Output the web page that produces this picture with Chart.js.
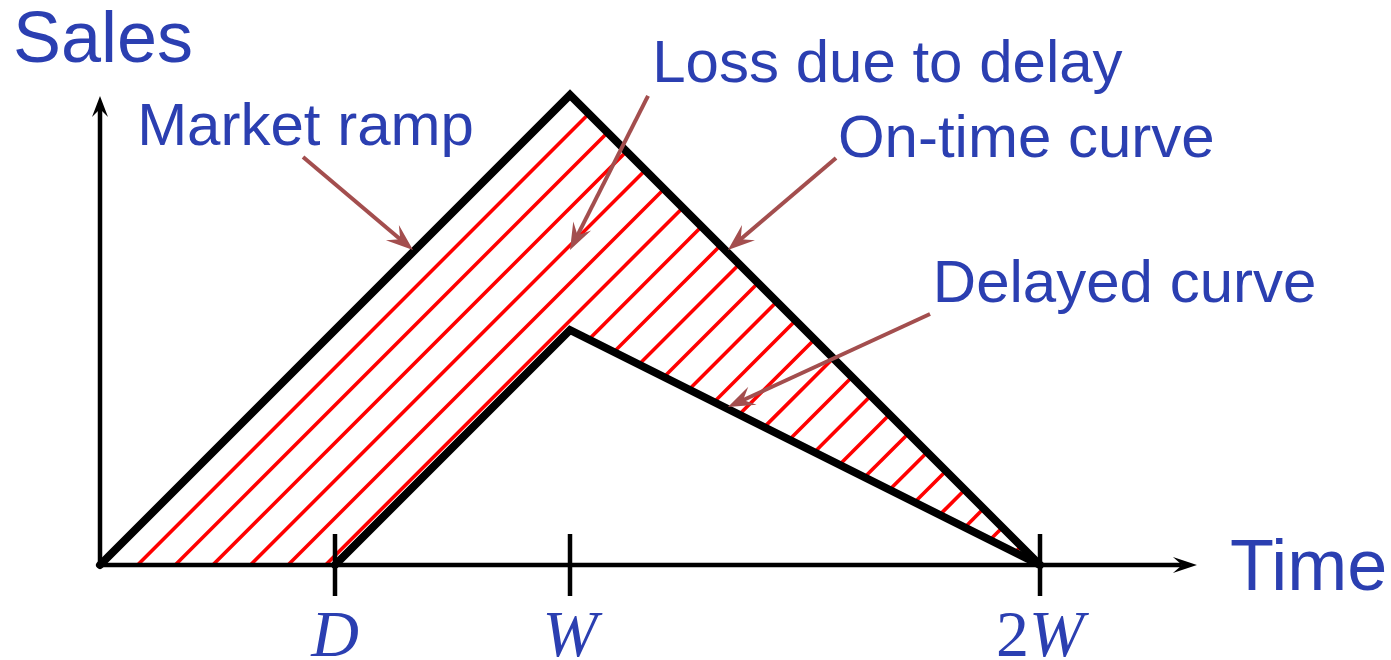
<!DOCTYPE html>
<html>
<head>
<meta charset="utf-8">
<script src="https://cdn.jsdelivr.net/npm/chart.js@4.4.1/dist/chart.umd.min.js"></script>
<style>
  html, body { margin: 0; padding: 0; background: #fff; }
  canvas { display: block; }
</style>
</head>
<body>
<canvas id="chart" width="1391" height="660"></canvas>
<script>
// time in units of W, sales relative to the on-time peak
const onTimeX = [0, 1, 2];
const onTimeY = [0, 1, 0];
const delayedX = [0.5, 1, 2];
const delayedY = [0, 0.5, 0];
const tickValues = [0.5, 1, 2];
const tickLabels = ['D', 'W', '2W'];
// where each red hatch line leaves the lower boundary (hatching runs at slope 1)
const hatchOffsets = [0.08, 0.16, 0.24, 0.32, 0.40, 0.48, 0.56, 0.64, 0.72, 0.80, 0.88, 0.96,
  1.04, 1.12, 1.20, 1.28, 1.36, 1.44, 1.52, 1.60, 1.68, 1.76, 1.84, 1.92];
const noteLabels = ['Market ramp', 'Loss due to delay', 'On-time curve', 'Delayed curve'];

const BLUE = '#2b3fb1';
const BROWN = '#a34e4e';

// text + arrow placement for the notes, in data units
const notes = [
  { text: [0.079, 0.894], tail: [0.432, 0.868], tip: [0.666, 0.670] },
  { text: [1.175, 1.028], tail: [1.166, 0.998], tip: [1.0, 0.670] },
  { text: [1.570, 0.868], tail: [1.566, 0.866], tip: [1.336, 0.670] },
  { text: [1.772, 0.560], tail: [1.766, 0.534], tip: [1.336, 0.336] },
];

function pts(xs, ys) {
  return xs.map((x, i) => ({ x: x, y: ys[i] }));
}

// point where the line x - y = c meets a polyline
function cross(c, xs, ys) {
  for (let i = 0; i < xs.length - 1; i++) {
    const dx = xs[i + 1] - xs[i], dy = ys[i + 1] - ys[i];
    const den = dx - dy;
    if (Math.abs(den) < 1e-9) continue;
    const t = (c - xs[i] + ys[i]) / den;
    if (t >= 0 && t <= 1) return { x: xs[i] + t * dx, y: ys[i] + t * dy };
  }
  return null;
}

const lowerX = [0].concat(delayedX);
const lowerY = [0].concat(delayedY);

const datasets = [];
datasets.push({ data: pts(onTimeX, onTimeY), borderColor: '#000', borderWidth: 8, borderJoinStyle: 'miter', borderCapStyle: 'round' });
datasets.push({ data: pts(delayedX, delayedY), borderColor: '#000', borderWidth: 8, borderJoinStyle: 'miter', borderCapStyle: 'round' });
// axes (the arrowheads are added by the plugin)
datasets.push({ data: [{ x: 0, y: 0 }, { x: 2.302, y: 0 }], borderColor: '#000', borderWidth: 4.5 });
datasets.push({ data: [{ x: 0, y: 0 }, { x: 0, y: 0.97 }], borderColor: '#000', borderWidth: 4.5 });
tickValues.forEach(v => {
  datasets.push({ data: [{ x: v, y: -0.066 }, { x: v, y: 0.066 }], borderColor: '#000', borderWidth: 4.5 });
});
hatchOffsets.forEach(c => {
  const a = cross(c, lowerX, lowerY);
  const b = cross(c, onTimeX.slice(1), onTimeY.slice(1));
  if (a && b) datasets.push({ data: [a, b], borderColor: '#ff0000', borderWidth: 3.6 });
});
datasets.forEach(d => {
  d.showLine = true;
  d.pointRadius = 0;
  d.clip = false;
  d.tension = 0;
});

function arrowHead(ctx, x1, y1, x2, y2, len, half, color) {
  const a = Math.atan2(y2 - y1, x2 - x1);
  ctx.save();
  ctx.translate(x2, y2);
  ctx.rotate(a);
  ctx.beginPath();
  ctx.moveTo(0, 0);
  ctx.lineTo(-len, -half);
  ctx.lineTo(-len * 0.62, 0);
  ctx.lineTo(-len, half);
  ctx.closePath();
  ctx.fillStyle = color;
  ctx.fill();
  ctx.restore();
}

const decorations = {
  id: 'decorations',
  afterDatasetsDraw(chart) {
    const ctx = chart.ctx;
    const xs = chart.scales.x, ys = chart.scales.y;
    const X = v => xs.getPixelForValue(v), Y = v => ys.getPixelForValue(v);

    // axis arrowheads
    const xEnd = X(2.302), yEnd = Y(0.97), x0 = X(0), y0 = Y(0);
    arrowHead(ctx, x0, y0, xEnd + 15, y0, 24, 8, '#000');
    arrowHead(ctx, x0, y0, x0, yEnd - 13, 21, 8, '#000');

    ctx.save();
    ctx.fillStyle = BLUE;
    ctx.textBaseline = 'alphabetic';
    ctx.textAlign = 'left';
    ctx.font = '72px "Liberation Sans", Arial, sans-serif';
    ctx.fillText('Sales', x0 - 87, yEnd - 47);
    ctx.fillText('Time', xEnd + 48, y0 + 25);

    // tick labels
    tickValues.forEach((v, i) => {
      const lab = tickLabels[i];
      const cx = X(v);
      const upright = lab.match(/^\d*/)[0];
      const italic = lab.slice(upright.length);
      ctx.font = '66px "Liberation Serif", serif';
      const wu = ctx.measureText(upright).width;
      ctx.font = 'italic 66px "Liberation Serif", serif';
      const wi = ctx.measureText(italic).width;
      const left = cx - (wu + wi) / 2;
      ctx.font = '66px "Liberation Serif", serif';
      ctx.fillText(upright, left, y0 + 91);
      ctx.font = 'italic 66px "Liberation Serif", serif';
      ctx.fillText(italic, left + wu, y0 + 91);
    });

    // notes with arrows
    ctx.font = '60px "Liberation Sans", Arial, sans-serif';
    notes.forEach((n, i) => {
      ctx.fillStyle = BLUE;
      ctx.fillText(noteLabels[i], X(n.text[0]), Y(n.text[1]));
      const tx = X(n.tail[0]), ty = Y(n.tail[1]);
      const hx = X(n.tip[0]), hy = Y(n.tip[1]);
      const d = Math.hypot(hx - tx, hy - ty);
      const back = 14;
      ctx.beginPath();
      ctx.moveTo(tx, ty);
      ctx.lineTo(hx - (hx - tx) / d * back, hy - (hy - ty) / d * back);
      ctx.strokeStyle = BROWN;
      ctx.lineWidth = 4;
      ctx.lineCap = 'butt';
      ctx.stroke();
      arrowHead(ctx, tx, ty, hx, hy, 27, 10, BROWN);
    });
    ctx.restore();
  }
};

const xMax = 2.35, yMax = 1.06;
new Chart(document.getElementById('chart'), {
  type: 'scatter',
  data: { datasets: datasets },
  options: {
    responsive: false,
    animation: false,
    devicePixelRatio: 1,
    layout: {
      padding: { left: 100, right: 1391 - 100 - xMax * 470, top: 565 - yMax * 470, bottom: 95 }
    },
    scales: {
      x: { type: 'linear', min: 0, max: xMax, display: false },
      y: { type: 'linear', min: 0, max: yMax, display: false }
    },
    plugins: {
      legend: { display: false },
      tooltip: { enabled: false }
    }
  },
  plugins: [decorations]
});
</script>
</body>
</html>
